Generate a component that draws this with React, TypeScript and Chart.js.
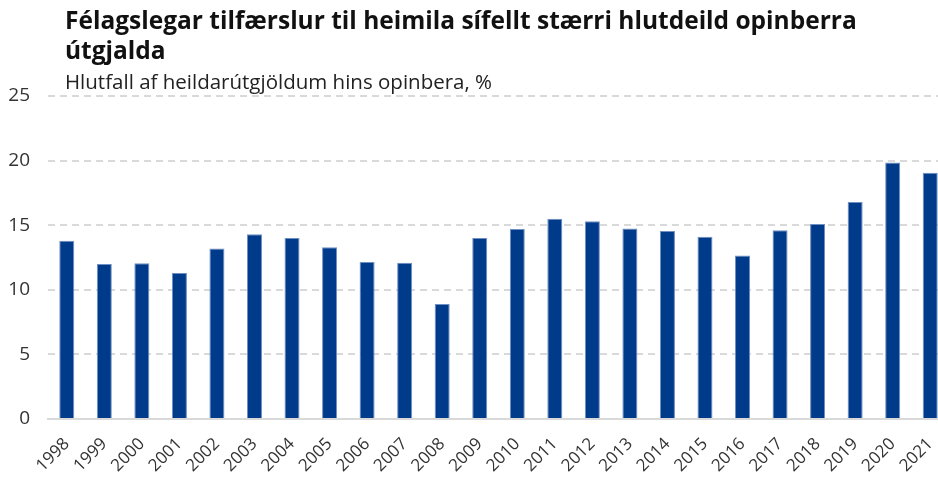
import React, { useEffect, useRef } from "react";
import { Chart, registerables } from "chart.js";

Chart.register(...registerables);

const years = [
  "1998", "1999", "2000", "2001", "2002", "2003", "2004", "2005", "2006", "2007", "2008", "2009",
  "2010", "2011", "2012", "2013", "2014", "2015", "2016", "2017", "2018", "2019", "2020", "2021",
];
const shares = [
  13.8, 12.0, 12.05, 11.3, 13.2, 14.3, 14.0, 13.3, 12.15, 12.1, 8.9, 14.0,
  14.7, 15.5, 15.3, 14.75, 14.55, 14.1, 12.65, 14.6, 15.1, 16.8, 19.85, 19.05,
];
const yMin = 0;
const yMax = 25;
const yStep = 5;
const titleLines = [
  "Félagslegar tilfærslur til heimila sífellt stærri hlutdeild opinberra",
  "útgjalda",
];
const subtitle = "Hlutfall af heildarútgjöldum hins opinbera, %";

const FONT = "'Open Sans', 'Noto Sans', sans-serif";

export default function App() {
  const ref = useRef<HTMLCanvasElement | null>(null);

  useEffect(() => {
    document.body.style.margin = "0";
    const chart = new Chart(ref.current as HTMLCanvasElement, {
      type: "bar",
      data: {
        labels: years,
        datasets: [
          {
            data: shares,
            backgroundColor: "#003a8a",
            borderColor: "#6f8fc2",
            borderWidth: 1,
            barPercentage: 0.8,
            categoryPercentage: 0.5,
          },
        ],
      },
      options: {
        responsive: false,
        animation: false,
        layout: { padding: { top: 96, left: 0, right: 0, bottom: 0 } },
        plugins: {
          legend: { display: false },
          tooltip: { enabled: false },
          title: { display: false },
        },
        scales: {
          x: {
            grid: { display: false, drawTicks: false },
            border: { display: true, color: "#d9d9d9", width: 2 },
            ticks: {
              autoSkip: false,
              maxRotation: 45,
              minRotation: 45,
              color: "#333333",
              font: { family: FONT, size: 17 },
              padding: 15,
            },
            afterFit: (s: any) => {
              s.height = 58;
              s.paddingLeft = 0;
              s.paddingRight = 0;
            },
          },
          y: {
            min: yMin,
            max: yMax,
            ticks: {
              stepSize: yStep,
              color: "#333333",
              font: { family: FONT, size: 19 },
              padding: 18,
            },
            grid: { color: "#d9d9d9", lineWidth: 2, drawTicks: false },
            border: { display: false, dash: [7, 5] },
            afterFit: (s: any) => {
              s.width = 48;
            },
          },
        },
      },
    });
    return () => chart.destroy();
  }, []);

  return (
    <div style={{ position: "relative", width: 938, height: 477, overflow: "hidden" }}>
      <canvas ref={ref} width={949} height={477} style={{ display: "block" }} />
      <div
        style={{
          position: "absolute",
          left: 65,
          top: 5,
          fontFamily: FONT,
          fontWeight: 700,
          fontSize: 24.5,
          lineHeight: "30px",
          color: "#111111",
          whiteSpace: "nowrap",
        }}
      >
        {titleLines.map((l) => (
          <div key={l}>{l}</div>
        ))}
      </div>
      <div
        style={{
          position: "absolute",
          left: 65,
          top: 68,
          fontFamily: FONT,
          fontSize: 20.5,
          lineHeight: "26px",
          color: "#222222",
          whiteSpace: "nowrap",
        }}
      >
        {subtitle}
      </div>
    </div>
  );
}
